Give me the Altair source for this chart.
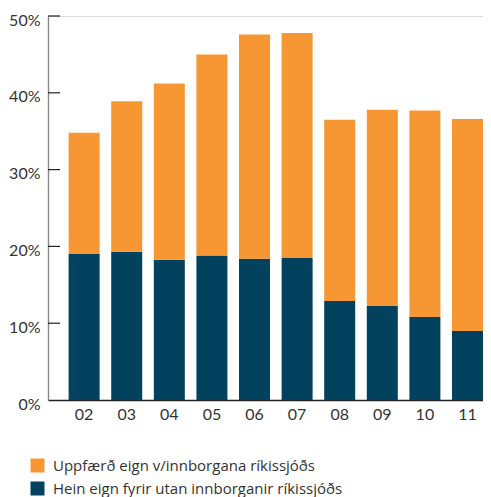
import altair as alt
import pandas as pd

years = ["02", "03", "04", "05", "06", "07", "08", "09", "10", "11"]
hein = [19.0, 19.3, 18.25, 18.8, 18.4, 18.5, 12.9, 12.25, 10.8, 9.0]
uppf = [15.8, 19.6, 22.95, 26.2, 29.2, 29.3, 23.6, 25.55, 26.9, 27.6]
series = ["Uppfærð eign v/innborgana ríkissjóðs", "Hein eign fyrir utan innborganir ríkissjóðs"]
colors = ["#F79733", "#03425F"]
y_ticks = [0, 10, 20, 30, 40, 50]

rows = []
for i, yr in enumerate(years):
    rows.append({"year": yr, "series": series[1], "value": hein[i], "ord": 0})
    rows.append({"year": yr, "series": series[0], "value": uppf[i], "ord": 1})
df = pd.DataFrame(rows)
ticks_df = pd.DataFrame({"t": y_ticks[1:]})

FONT = "Lato"

x = alt.X(
    "year:N",
    sort=years,
    scale=alt.Scale(paddingInner=0.272, paddingOuter=0.242, align=1),
    axis=alt.Axis(
        title=None, ticks=False, labelAngle=0, labelPadding=6,
        labelFontSize=16, labelColor="#333", labelFont=FONT,
        domainColor="#222", domainWidth=1.3,
    ),
)
y = alt.Y(
    "value:Q",
    stack="zero",
    scale=alt.Scale(domain=[0, 50], nice=False),
    axis=alt.Axis(
        title=None, values=y_ticks, labelExpr="datum.value + '%'",
        ticks=False, grid=False, labelPadding=8, labelFontSize=16, labelOffset=4,
        labelColor="#333", labelFont=FONT, domainColor="#888", domainWidth=1.4,
    ),
)

bars = alt.Chart(df).mark_bar().encode(
    x=x,
    y=y,
    color=alt.Color(
        "series:N",
        scale=alt.Scale(domain=series, range=colors),
        legend=alt.Legend(
            title=None, orient="none", legendX=-18, legendY=442,
            symbolType="square", symbolSize=196, symbolStrokeWidth=0,
            symbolOpacity=1, labelFontSize=15, labelFont="Open Sans", labelColor="#333",
            rowPadding=7, labelOffset=8, labelLimit=400,
        ),
    ),
    order=alt.Order("ord:Q", sort="ascending"),
)

tick_rules = alt.Chart(ticks_df).mark_rule(color="#222", strokeWidth=1.2).encode(
    y=alt.Y("t:Q"),
    x=alt.value(0),
    x2=alt.value(12),
)

chart = alt.layer(bars, tick_rules).properties(
    width=435, height=384,
    autosize=alt.AutoSizeParams(type="none"),
    padding={"left": 40, "top": 8, "right": 0, "bottom": 97},
).configure_view(stroke=None).configure(background="white")

chart.save("out.html", embed_options={"renderer": "svg", "actions": False})
